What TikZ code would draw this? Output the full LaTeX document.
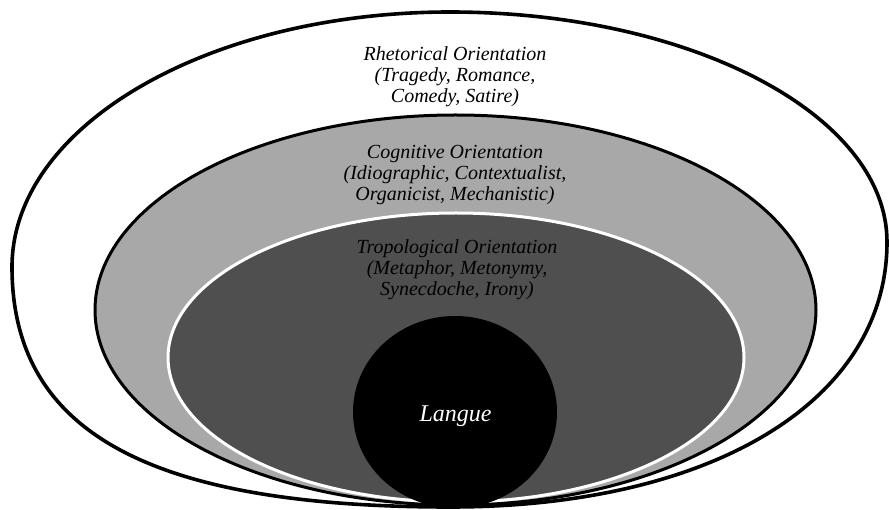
\documentclass[tikz,border=0pt]{standalone}
\usepackage{fontspec}
\setmainfont{Liberation Serif}
\begin{document}
\begin{tikzpicture}[x=1pt,y=-1pt]
  \tikzstyle{every node}=[font=\itshape\fontsize{20}{21}\selectfont,align=center,inner sep=0pt]
  \definecolor{lightshade}{gray}{0.66}
  \definecolor{darkshade}{gray}{0.31}
 \useasboundingbox (0,0) rectangle (889,510);
 \draw[line width=3.6pt,fill=white] (12,267)
   .. controls (12,126) and (208,12) .. (450,12)
   .. controls (691,12) and (887,115) .. (887,242)
   .. controls (887,401) and (712,507) .. (450,507)
   .. controls (149,507) and (12,432) .. (12,267) -- cycle;
 \draw[line width=3pt,fill=lightshade] (455.5,310) ellipse [x radius=360.5, y radius=195];
 \draw[line width=3pt,draw=white,fill=darkshade] (456,357.5) ellipse [x radius=288, y radius=144.5];
 \fill[black] (455,412) ellipse [x radius=102, y radius=96];

 \node (rhet) at (455,77) {Rhetorical Orientation\\(Tragedy, Romance,\\Comedy, Satire)};
 \node (cogn) at (455,175) {Cognitive Orientation\\(Idiographic, Contextualist,\\Organicist, Mechanistic)};
 \node (trop) at (457,270) {Tropological Orientation\\(Metaphor, Metonymy,\\Synecdoche, Irony)};
 \node[text=white,font=\itshape\fontsize{24}{26}\selectfont] (langue) at (455.5,416) {Langue};
\end{tikzpicture}
\end{document}
